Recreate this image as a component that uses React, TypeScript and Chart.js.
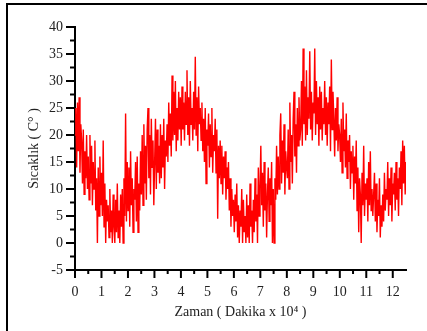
import React, { useEffect, useRef } from "react";
import { Chart, registerables } from "chart.js";

Chart.register(...registerables);

// Time axis (Dakika x 10^4)
const xMin = 0;
const xMax = 12.5;
const xMajorTicks = [0, 1, 2, 3, 4, 5, 6, 7, 8, 9, 10, 11, 12];
const xMinorTicks = [0.5, 1.5, 2.5, 3.5, 4.5, 5.5, 6.5, 7.5, 8.5, 9.5, 10.5, 11.5];
// Temperature axis (°C)
const yMajorTicks = [-5, 0, 5, 10, 15, 20, 25, 30, 35, 40];
const yMinorTicks = [-2.5, 2.5, 7.5, 12.5, 17.5, 22.5, 27.5, 32.5, 37.5];

const xTitle = "Zaman ( Dakika x 10\u2074 )";
const yTitle = "Sıcaklık ( C\u00B0 )";

const temperature = [
  20, 25, 14, 26, 17, 27, 13, 22,
  19, 11, 21, 9, 17, 12, 20, 10,
  16, 8, 20, 11, 18, 7, 15, 10,
  19, 6, 12, 0, 14, 5, 16, 7,
  13, 5, 19, 3, 11, 0, 8, 4,
  7, 1, 10, 2, 6, 0, 9, 3,
  0, 8, 2, 11, 1, 6, 0, 9,
  3, 10, 0, 12, 5, 24, 4, 15,
  6, 14, 3, 17, 7, 12, 2, 10,
  8, 15, 4, 16, 2, 11, 6, 17,
  9, 20, 7, 22, 11, 18, 8, 21,
  25, 12, 20, 9, 23, 14, 19, 7,
  15, 23, 10, 21, 13, 18, 11, 22,
  12, 20, 14, 23, 10, 19, 16, 22,
  15, 26, 18, 24, 16, 31, 19, 28,
  20, 30, 17, 25, 19, 28, 21, 27,
  18, 29, 21, 26, 19, 28, 22, 32,
  20, 27, 18, 30, 22, 25, 19, 28,
  21, 34.5, 20, 27, 17, 29, 22, 25,
  19, 26, 17, 23, 15, 25, 11, 21,
  18, 24, 14, 22, 16, 25, 13, 20,
  17, 23, 13, 21, 4.5, 18, 12, 19,
  11, 18, 9, 16, 12, 17, 8, 14,
  10, 15, 6, 12, 3, 10, 5, 8,
  2, 9, 4, 11, 1, 7, 0, 6,
  3, 10, 0, 8, 2, 5, 0, 9,
  1, 7, 0, 11, 3, 6, 0, 8,
  2, 12, 4, 9, 0, 14, 5, 10,
  18, 7, 13, 3, 15, 6, 11, 1,
  9, 14, 4, 12, 7, 15, 0, 10,
  0, 12, 8, 18, 9, 16, 10, 20,
  24, 11, 19, 13, 22, 9, 17, 14,
  12, 21, 10, 26, 15, 20, 11, 23,
  28, 16, 22, 13, 25, 18, 27, 19,
  21, 30, 18, 36, 22, 29, 19, 32,
  20, 27, 23, 35.5, 21, 28, 19, 26,
  24, 36, 20, 30, 22, 27, 18, 29,
  21, 28, 19, 25, 22, 30, 20, 27,
  18, 26, 22, 29, 17, 34, 21, 28,
  23, 16, 25, 19, 27, 17, 22, 20,
  15, 23, 13, 26, 17, 21, 14, 24,
  12, 19, 15, 20, 10, 17, 13, 18,
  8, 16, 11, 19, 6, 14, 2, 12,
  9, 0, 13, 7, 18, 5, 11, 8,
  12, 4, 15, 7, 17, 6, 10, 5,
  9, 13, 4, 11, 2, 8, 5, 12,
  1, 7, 3, 9, 4, 13, 6, 10,
  8, 15, 5, 12, 7, 14, 4, 11,
  9, 13, 6, 15, 8, 12, 5, 14,
  10, 17, 7, 19, 11, 18, 9, 15,
];

const FONT = "'Liberation Serif', 'Times New Roman', serif";

const frameAndTicks = {
  id: "frameAndTicks",
  beforeDraw(chart: any) {
    const ctx = chart.ctx;
    ctx.save();
    ctx.fillStyle = "#ffffff";
    ctx.fillRect(0, 0, chart.width, chart.height);
    ctx.fillStyle = "#000000";
    ctx.fillRect(6, 3, chart.width - 6, 2);
    ctx.fillRect(6, 3, 2, chart.height - 3);
    ctx.restore();
  },
  afterDraw(chart: any) {
    const ctx = chart.ctx;
    const xs = chart.scales.x;
    const ys = chart.scales.y;
    const left = chart.chartArea.left;
    const bottom = chart.chartArea.bottom;
    ctx.save();
    ctx.strokeStyle = "#000000";
    ctx.lineWidth = 2;
    const line = (x1: number, y1: number, x2: number, y2: number) => {
      ctx.beginPath();
      ctx.moveTo(x1, y1);
      ctx.lineTo(x2, y2);
      ctx.stroke();
    };
    yMajorTicks.forEach((v) => {
      const p = ys.getPixelForValue(v);
      line(left - 9, p, left, p);
    });
    yMinorTicks.forEach((v) => {
      const p = ys.getPixelForValue(v);
      line(left - 5, p, left, p);
    });
    xMajorTicks.forEach((v) => {
      const p = xs.getPixelForValue(v);
      line(p, bottom, p, bottom + 8);
    });
    xMinorTicks.forEach((v) => {
      const p = xs.getPixelForValue(v);
      line(p, bottom, p, bottom + 4);
    });
    ctx.restore();
  },
};

export default function App() {
  const canvasRef = useRef<HTMLCanvasElement | null>(null);

  useEffect(() => {
    if (!canvasRef.current) return;
    const step = (xMax - xMin) / (temperature.length - 1);
    const points = temperature.map((t, i) => ({ x: xMin + i * step, y: t }));
    const chart = new Chart(canvasRef.current, {
      type: "line",
      data: {
        datasets: [
          {
            data: points,
            borderColor: "rgb(255,0,0)",
            borderWidth: 1.4,
            pointRadius: 0,
            tension: 0,
            fill: false,
          },
        ],
      },
      options: {
        responsive: false,
        animation: false,
        events: [],
        layout: { padding: { left: 0, top: 27, right: 21, bottom: 0 } },
        plugins: { legend: { display: false }, tooltip: { enabled: false } },
        scales: {
          x: {
            type: "linear",
            min: xMin,
            max: xMax,
            grid: { display: false, drawTicks: false },
            border: { display: true, color: "#000", width: 2 },
            ticks: {
              stepSize: 1,
              includeBounds: false,
              maxRotation: 0,
              autoSkip: false,
              padding: 14,
              color: "#222",
              font: { family: FONT, size: 14 },
            },
            title: {
              display: true,
              text: xTitle,
              color: "#222",
              font: { family: FONT, size: 14 },
              padding: { top: 0, bottom: 10 },
            },
            afterFit: (s: any) => {
              s.height = 61;
            },
          },
          y: {
            type: "linear",
            min: -5,
            max: 40,
            grid: { display: false, drawTicks: false },
            border: { display: true, color: "#000", width: 2 },
            ticks: {
              stepSize: 5,
              includeBounds: false,
              padding: 12,
              color: "#222",
              font: { family: FONT, size: 14 },
            },
            title: {
              display: true,
              text: yTitle,
              color: "#222",
              font: { family: FONT, size: 14 },
              padding: { top: 26, bottom: 0 },
            },
            afterFit: (s: any) => {
              s.width = 75;
            },
          },
        },
      },
      plugins: [frameAndTicks],
    });
    return () => chart.destroy();
  }, []);

  return (
    <div style={{ position: "fixed", left: 0, top: 0, width: 427, height: 331 }}>
      <canvas ref={canvasRef} width={427} height={331} style={{ display: "block" }} />
    </div>
  );
}
